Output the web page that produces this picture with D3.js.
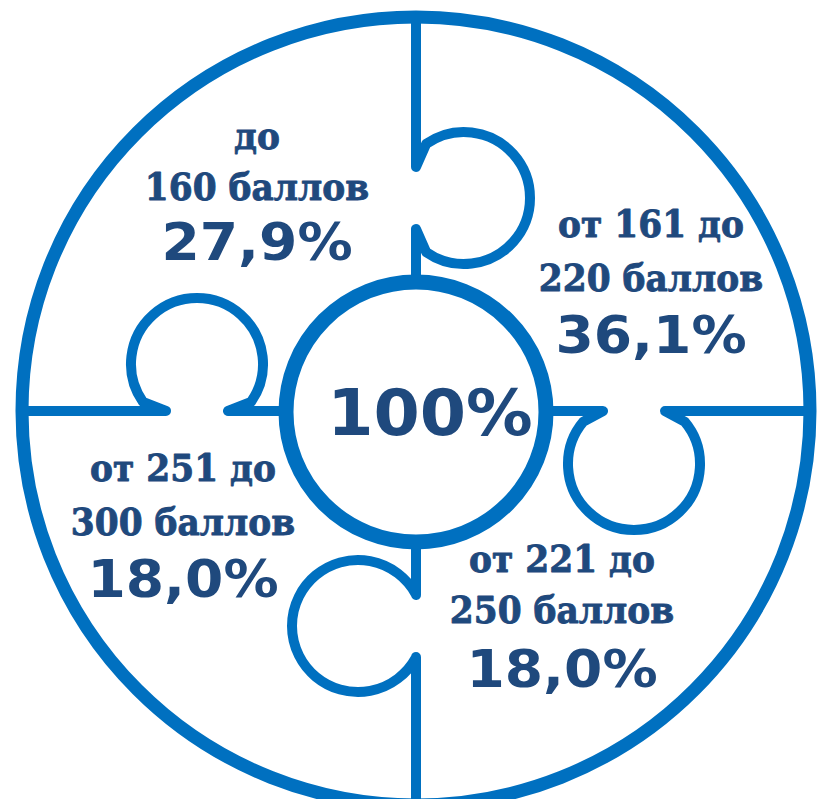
<!DOCTYPE html>
<html>
<head>
<meta charset="utf-8">
<script src="https://cdn.jsdelivr.net/npm/d3@7"></script>
<style>
  html, body { margin: 0; padding: 0; background: #ffffff; }
  svg { display: block; }
</style>
</head>
<body>
<svg id="chart" width="819" height="799"></svg>
<script>
// ---------------- DATA ----------------
const labelLine1 = ["до", "от 161 до", "от 221 до", "от 251 до"];
const labelLine2 = ["160 баллов", "220 баллов", "250 баллов", "300 баллов"];
const shares = [27.9, 36.1, 18.0, 18.0];

// ---------------- LAYOUT ----------------
const C = { x: 416, y: 411 };
const R_OUTER = 394, R_INNER = 130;
const BLUE = "#0070C0", TEXT = "#1F497D";

// knob for each divider (order: top, right, bottom, left)
const knobs = [
  { cx: 464, cy: 198, r: 66, alpha: 55 },
  { cx: 634, cy: 464, r: 66, alpha: 50 },
  { cx: 358, cy: 626, r: 66, alpha: 29 },
  { cx: 197, cy: 364, r: 66, alpha: 55 }
];

// label placement per slice (top-left, top-right, bottom-right, bottom-left)
const labelPos = [
  { x: 257, b1: 149, b2: 200, b3: 260 },
  { x: 651, b1: 237, b2: 291, b3: 353 },
  { x: 562, b1: 572, b2: 623, b3: 687 },
  { x: 183, b1: 481, b2: 535, b3: 597 }
];

const svg = d3.select("#chart");
const fmt = v => d3.format(".1f")(v).replace(".", ",") + "%";

// equal quarters -> boundaries of the puzzle pieces
const pie = d3.pie().value(() => 1).sort(null).startAngle(0).endAngle(2 * Math.PI);
const boundaries = pie(shares).map(d => d.startAngle);
const pt = (a, r) => [C.x + r * Math.sin(a), C.y - r * Math.cos(a)];

// ---------------- DIVIDERS WITH KNOBS ----------------
boundaries.forEach((a, i) => {
  const k = knobs[i];
  const outer = pt(a, R_OUTER);
  const inner = pt(a, R_INNER);
  const ux = Math.sin(a), uy = -Math.cos(a);
  const t = (k.cx - C.x) * ux + (k.cy - C.y) * uy;
  const foot = [C.x + t * ux, C.y + t * uy];
  const thd = Math.atan2(foot[1] - k.cy, foot[0] - k.cx);
  const al = k.alpha * Math.PI / 180;
  const qA = [k.cx + k.r * Math.cos(thd + al), k.cy + k.r * Math.sin(thd + al)];
  const qB = [k.cx + k.r * Math.cos(thd - al), k.cy + k.r * Math.sin(thd - al)];
  const proj = q => (q[0] - C.x) * ux + (q[1] - C.y) * uy;
  const h = 31;
  const pOuter = [C.x + (t + h) * ux, C.y + (t + h) * uy];
  const pInner = [C.x + (t - h) * ux, C.y + (t - h) * uy];
  const firstIsA = proj(qA) > proj(qB);
  const p = d3.path();
  p.moveTo(outer[0], outer[1]);
  p.lineTo(pOuter[0], pOuter[1]);
  if (firstIsA) {
    p.lineTo(qA[0], qA[1]);
    p.arc(k.cx, k.cy, k.r, thd + al, thd - al + 2 * Math.PI, false);
  } else {
    p.lineTo(qB[0], qB[1]);
    p.arc(k.cx, k.cy, k.r, thd - al, thd + al - 2 * Math.PI, true);
  }
  p.lineTo(pInner[0], pInner[1]);
  p.lineTo(inner[0], inner[1]);
  svg.append("path")
    .attr("d", p.toString())
    .attr("fill", "none")
    .attr("stroke", BLUE)
    .attr("stroke-width", 10)
    .attr("stroke-linejoin", "round");
});

// ---------------- OUTER AND CENTRE CIRCLES ----------------
svg.append("circle")
  .attr("cx", C.x).attr("cy", C.y).attr("r", R_OUTER)
  .attr("fill", "none").attr("stroke", BLUE).attr("stroke-width", 13);

svg.append("circle")
  .attr("cx", C.x).attr("cy", C.y + 1).attr("r", R_INNER)
  .attr("fill", "#ffffff").attr("stroke", BLUE).attr("stroke-width", 15);

// ---------------- TEXT ----------------
const total = d3.sum(shares);
svg.append("g")
  .attr("transform", "translate(430,435) scale(1.04,1)")
  .append("text")
  .attr("text-anchor", "middle")
  .attr("font-family", "'DejaVu Sans', Verdana, sans-serif")
  .attr("font-weight", "bold")
  .attr("font-size", 64)
  .attr("fill", TEXT)
  .text(d3.format(".0f")(total) + "%");

const groups = svg.selectAll("g.lbl")
  .data(shares.map((v, i) => ({ v, l1: labelLine1[i], l2: labelLine2[i], pos: labelPos[i] })))
  .join("g").attr("class", "lbl");

function addLine(sel, yKey, textFn, family, size, sx, sw) {
  sel.append("g")
    .attr("transform", d => `translate(${d.pos.x},${d.pos[yKey]}) scale(${sx},1)`)
    .append("text")
    .attr("text-anchor", "middle")
    .attr("font-family", family)
    .attr("font-weight", "bold")
    .attr("font-size", size)
    .attr("fill", TEXT)
    .attr("stroke", sw > 0 ? TEXT : "none")
    .attr("stroke-width", sw)
    .attr("stroke-linejoin", "round")
    .text(textFn);
}

addLine(groups, "b1", d => d.l1, "'DejaVu Serif', serif", 37, 0.93, 0.9);
addLine(groups, "b2", d => d.l2, "'DejaVu Serif', serif", 37, 0.93, 0.9);
addLine(groups, "b3", d => fmt(d.v), "'DejaVu Sans', Verdana, sans-serif", 52, 1.06, 0);
</script>
</body>
</html>
